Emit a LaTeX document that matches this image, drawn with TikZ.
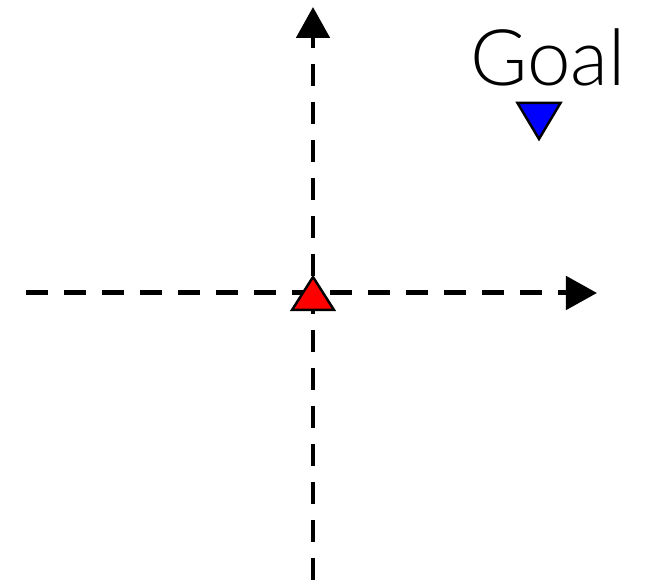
\documentclass[tikz,border=0pt]{standalone}
\usepackage{fontspec}
\newfontfamily\goalfont{Lato Light}
\usetikzlibrary{arrows.meta}
\tikzset{
    axis/.style={line width=1.42pt, dash pattern=on 0.22cm off 0.16cm,
        -{Triangle[length=0.31cm, width=0.33cm]}},
    marker/.style={line width=0.7pt, line join=miter, draw=black}
}
\begin{document}
\begin{tikzpicture}[x=0.01cm, y=0.01cm]
\useasboundingbox (0,0) rectangle (651,580);
\coordinate (origin) at (313,287);
\coordinate (west) at (26,287);
\coordinate (east) at (597,287);
\coordinate (south) at (313,0);
\coordinate (north) at (313,573);
\coordinate (goal) at (539,441);
% axes
\draw[axis]
    (west)--(east);
\draw[axis]
    (south)--(north);
% start and goal
\fill[red, marker]
    (origin)++(0,16)--++(21,-33)--++(-42,0)--cycle;
\fill[blue, marker]
    (goal)--++(21.5,36)--++(-43,0)--cycle;
\node[anchor=base, inner sep=0pt] (goallabel) at (548,494)
    {\goalfont\fontsize{22.2}{25}\selectfont Goal};
\end{tikzpicture}
\end{document}
